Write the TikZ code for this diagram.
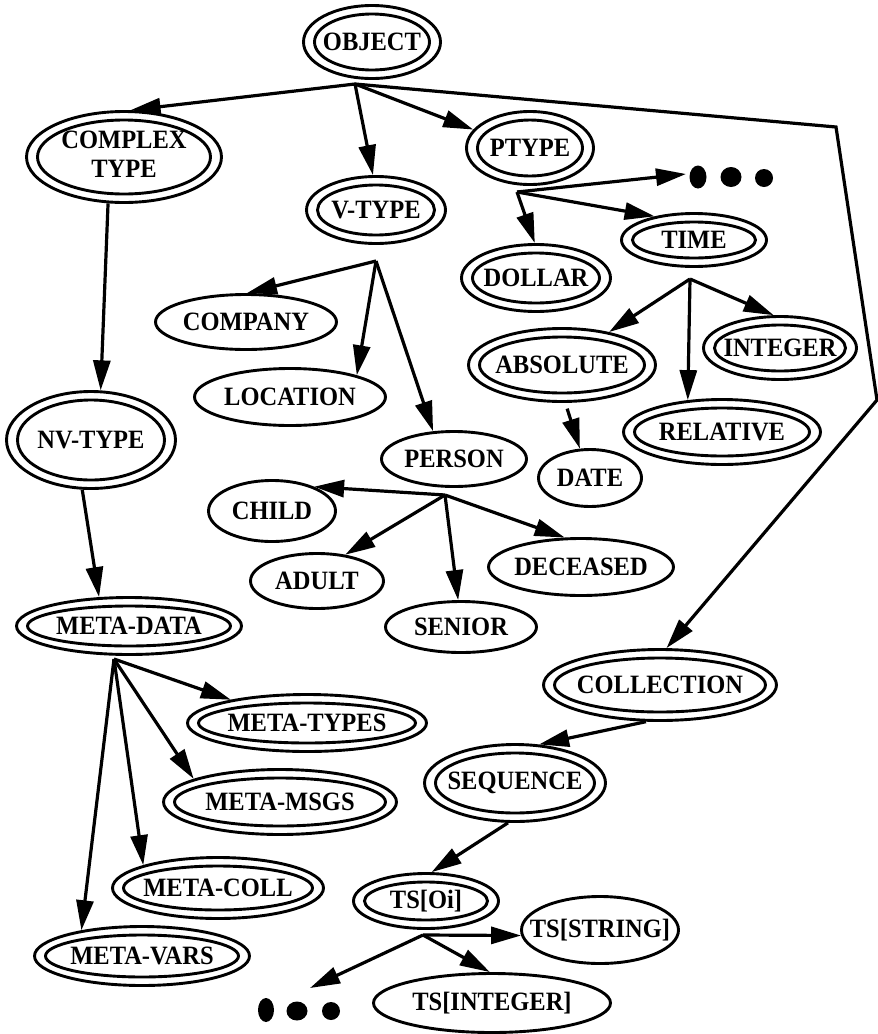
\documentclass[tikz,border=0pt]{standalone}
\usepackage{fontspec}
\usepackage{graphicx}
\setmainfont{Liberation Serif}
\usetikzlibrary{shapes.geometric,arrows.meta,calc}
\newcommand\nodetxt[1]{\makebox[0pt]{\scalebox{1}[1.08]{#1}}}
\tikzset{
  lbl/.style={font=\fontsize{24.5}{27}\selectfont\bfseries},
  sz/.style 2 args={minimum width=#1pt, minimum height=#2pt},
  ell/.style={lbl, ellipse, draw, line width=2.9pt, inner sep=0pt},
  innerring/.style={path picture={
      \draw[line width=2.9pt]
        let \p1=(path picture bounding box.north east),
            \p2=(path picture bounding box.center) in
        (\p2) ellipse [x radius={\x1-\x2-11pt}, y radius={\y1-\y2-8.5pt}];}},
  dbl/.style={ell, innerring},
  arr/.style={line width=3.2pt, -{Triangle[length=30pt,width=17pt]}},
  dot/.style={fill=black},
}
\begin{document}
\begin{tikzpicture}[x=1pt,y=-1pt]
\useasboundingbox (0,0) rectangle (878,1034);

% ---- nodes ----
\node[dbl, sz={137}{73}] (obj)  at (372,42)  {\nodetxt{OBJECT}};
\node[dbl, sz={195}{91}] (ct)   at (124,157) {\nodetxt{\begin{tabular}{@{}c@{}}COMPLEX\\TYPE\end{tabular}}};
\node[dbl, sz={139}{67}] (vt)   at (376,210) {\nodetxt{V-TYPE}};
\node[dbl, sz={127}{73}] (pt)   at (530,148) {\nodetxt{PTYPE}};
\node[dbl, sz={145}{53}] (time) at (694,240) {\nodetxt{TIME}};
\node[dbl, sz={149}{67}] (dol)  at (536,278) {\nodetxt{DOLLAR}};
\node[ell, sz={181}{55}] (comp) at (246,322) {\nodetxt{COMPANY}};
\node[ell, sz={191}{57}] (loc)  at (290,397) {\nodetxt{LOCATION}};
\node[dbl, sz={169}{97}] (nv)   at (91,440)  {\nodetxt{NV-TYPE}};
\node[ell, sz={145}{55}] (pers) at (454,459) {\nodetxt{PERSON}};
\node[ell, sz={127}{61}] (chld) at (272,511) {\nodetxt{CHILD}};
\node[ell, sz={133}{55}] (adlt) at (317,581) {\nodetxt{ADULT}};
\node[ell, sz={151}{51}] (sen)  at (461,627) {\nodetxt{SENIOR}};
\node[ell, sz={185}{57}] (dec)  at (581,567) {\nodetxt{DECEASED}};
\node[ell, sz={103}{57}] (date) at (590,478) {\nodetxt{DATE}};
\node[dbl, sz={187}{73}] (abs)  at (562,365) {\nodetxt{ABSOLUTE}};
\node[dbl, sz={153}{63}] (int)  at (780,348) {\nodetxt{INTEGER}};
\node[dbl, sz={197}{65}] (rel)  at (722,432) {\nodetxt{RELATIVE}};
\node[dbl, sz={225}{57}] (md)   at (129,626) {\nodetxt{META-DATA}};
\node[dbl, sz={239}{57}] (mty)  at (307,723) {\nodetxt{META-TYPES}};
\node[dbl, sz={233}{65}] (mms)  at (280,802) {\nodetxt{META-MSGS}};
\node[dbl, sz={211}{61}] (mco)  at (218,888) {\nodetxt{META-COLL}};
\node[dbl, sz={215}{59}] (mva)  at (142,956) {\nodetxt{META-VARS}};
\node[dbl, sz={233}{71}] (coll) at (660,685) {\nodetxt{COLLECTION}};
\node[dbl, sz={181}{77}] (seq)  at (515,783) {\nodetxt{SEQUENCE}};
\node[dbl, sz={145}{55}] (tso)  at (426,901) {\nodetxt{TS[Oi]}};
\node[ell, sz={157}{67}] (tss)  at (600,930) {\nodetxt{TS[STRING]}};
\node[ell, sz={237}{59}] (tsi)  at (492,1003) {\nodetxt{TS[INTEGER]}};

% ---- ellipsis marks ----
\fill[dot] (698,177) ellipse [x radius=8.5pt, y radius=11.5pt];
\fill[dot] (731,177) ellipse [x radius=10.5pt, y radius=10pt];
\fill[dot] (764,178) ellipse [x radius=9pt, y radius=9pt];
\coordinate (more1) at (686,174);

\fill[dot] (266,1010) ellipse [x radius=8pt, y radius=12pt];
\fill[dot] (297,1011) ellipse [x radius=10.5pt, y radius=9.5pt];
\fill[dot] (331,1011) ellipse [x radius=9pt, y radius=9pt];
\coordinate (more2) at (310,988);

% ---- branch points ----
\coordinate (f0) at (355,84);
\coordinate (f1) at (376,261);
\coordinate (f2) at (517,192);
\coordinate (f3) at (690,279);
\coordinate (f4) at (445,495);
\coordinate (f5) at (114,659);
\coordinate (f6) at (423,935);
\coordinate (b1) at (836,127);
\coordinate (b2) at (877,400);

% ---- connectors ----
\draw[arr] (f0) -- (ct.82);
\draw[arr] (f0) -- (vt.95);
\draw[arr] (f0) -- (pt.162);
\draw[arr] (f0) -- (b1) -- (b2) -- (coll.80);

\draw[arr] (ct.251) -- (nv.79);
\draw[arr] (nv.260) -- (md.136);

\draw[arr] (f1) -- (comp.88);
\draw[arr] (f1) -- (loc.18);
\draw[arr] (f1) -- (pers.127);

\draw[arr] (f2) -- (more1);
\draw[arr] (f2) -- (time.149);
\draw[arr] (f2) -- (dol.92);

\draw[arr] (f3) -- (abs.35);
\draw[arr] (f3) -- (rel.137);
\draw[arr] (f3) -- (int.101);
\draw[arr, shorten <=6pt] (abs.275) -- (date.109);

\draw[arr] (f4) -- (chld.30);
\draw[arr] (f4) -- (adlt.43);
\draw[arr] (f4) -- (sen.96);
\draw[arr] (f4) -- (dec.119);

\draw[arr] (f5) -- (mty.163);
\draw[arr] (f5) -- (mms.165);
\draw[arr] (f5) -- (mco.163);
\draw[arr] (f5) -- (mva.157);

\draw[arr] (coll.249) -- (seq.58);
\draw[arr] (seq.260) -- (tso.79);
\draw[arr] (f6) -- (tss.184);
\draw[arr] (f6) -- (tsi.94);
\draw[arr] (f6) -- (more2);
\end{tikzpicture}
\end{document}
